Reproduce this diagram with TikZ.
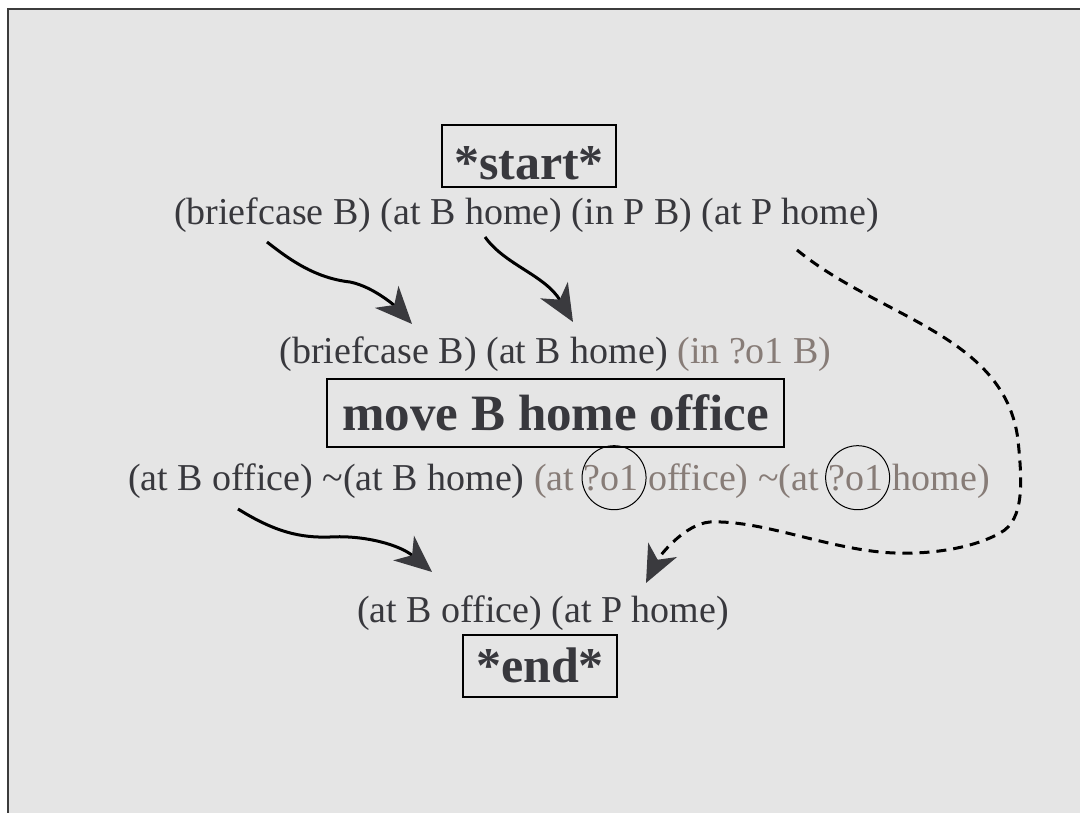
\documentclass[tikz,border=0pt]{standalone}
\usepackage{fontspec}
\setmainfont{Liberation Serif}
\usetikzlibrary{arrows.meta}
\definecolor{bg}{HTML}{E5E5E5}
\definecolor{ink}{HTML}{38383D}
\definecolor{faded}{HTML}{877C77}
\definecolor{tipc}{HTML}{3A3A3E}
\definecolor{framec}{HTML}{3C3C3C}
\tikzset{
  txt/.style={inner sep=0pt, outer sep=0pt, text=ink, font=\fontsize{38}{40}\selectfont, anchor=base},
  chainpart/.style={txt, anchor=base west},
  box/.style={draw=black, line width=2pt, inner sep=0pt, text=ink, font=\fontsize{50}{52}\selectfont\bfseries},
  flow/.style={line width=3pt, draw=black, -{Stealth[length=37pt, width=32pt, inset=11pt, color=tipc]}},
  flowdash/.style={flow, dash pattern=on 10pt off 7pt},
  ring/.style={circle, draw=black, line width=1pt, minimum size=64pt, inner sep=0pt},
  framestyle/.style={draw=framec, line width=2pt}
}
\begin{document}
\begin{tikzpicture}[x=1pt, y=-1pt]
\useasboundingbox (0,0) rectangle (1080,813);
\fill[bg] (8,9) rectangle (1095,830);
\draw[framestyle] (8,830) -- (8,9) -- (1095,9);

% boxes
\node[box, minimum width=174pt, text height=55pt, text depth=7pt] (start) at (529,156) {*start*};
\node[box, minimum width=457pt, text height=51pt, text depth=17pt, font=\fontsize{51}{53}\selectfont\bfseries] (op) at (555.5,413) {move B home office};
\node[box, minimum width=154pt, text height=47pt, text depth=15pt] (fin) at (540,666) {*end*};

% condition lines
\node[txt] (init) at (526.5,225) {(briefcase B) (at B home) (in P B) (at P home)};
\node[txt] (pre) at (555.5,363) {(briefcase B) (at B home) \textcolor{faded}{(in ?o1 B)}};
\node[chainpart] (e1) at (128,490) {(at B office) \textasciitilde(at B home) \textcolor{faded}{(at}\ \mbox{}};
\node[chainpart, text=faded] (v1) at (e1.base east) {?o1};
\node[chainpart, text=faded] (e2) at (v1.base east) {\mbox{} office) \textasciitilde(at\ \mbox{}};
\node[chainpart, text=faded] (v2) at (e2.base east) {?o1};
\node[chainpart, text=faded] (e3) at (v2.base east) {\mbox{} home)};
\node[txt] (goal) at (543,622) {(at B office) (at P home)};

% circles around the variable
\node[ring] (r1) at ([xshift=3pt]v1.center) {};
\node[ring] (r2) at ([xshift=2pt]v2.center) {};

% connector end points
\coordinate (a1s) at (267,242);
\coordinate (a1e) at (412,324);
\coordinate (a2s) at (485,237);
\coordinate (a2e) at (573,322);
\coordinate (a3s) at (238,509);
\coordinate (a3e) at (432,572);
\coordinate (a4s) at (797,250);
\coordinate (a4e) at (646,583);

\draw[flow] (a1s) .. controls (290,260) and (315,278) .. (350,282)
                  .. controls (375,287) and (398,309) .. (a1e);
\draw[flow] (a2s) .. controls (505,265) and (545,275) .. (a2e);
\draw[flow] (a3s) .. controls (275,532) and (300,538) .. (330,537)
                  .. controls (365,535) and (400,545) .. (a3e);
\draw[flowdash] (a4s) .. controls (880,318) and (1005,335) .. (1018,440)
                      .. controls (1022,480) and (1025,520) .. (1000,533)
                      .. controls (970,550) and (920,556) .. (880,552)
                      .. controls (820,546) and (760,520) .. (710,522)
                      .. controls (685,524) and (660,555) .. (a4e);
\end{tikzpicture}
\end{document}
